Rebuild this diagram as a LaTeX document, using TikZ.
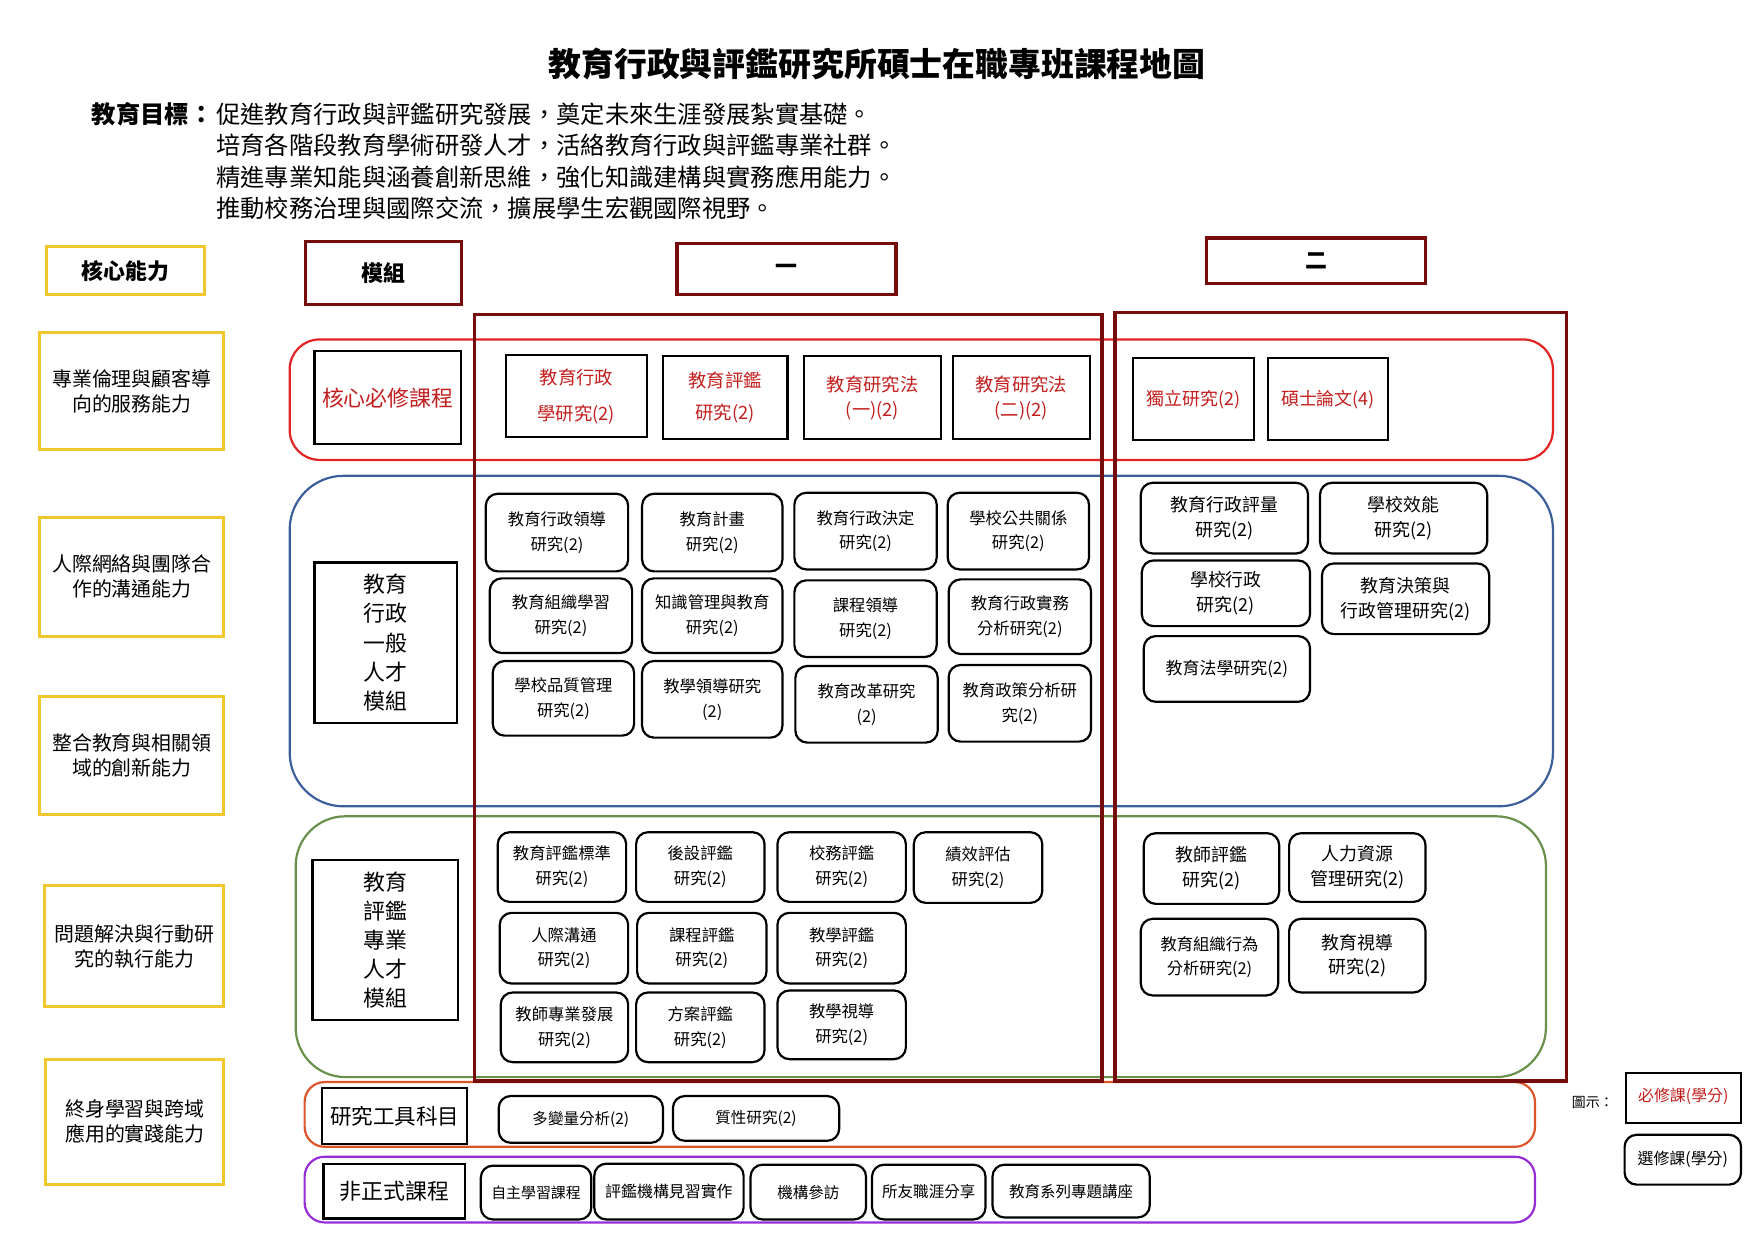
\documentclass[tikz,border=0pt]{standalone}
\usepackage{fontspec}
\setmainfont{Noto Sans CJK TC}
\definecolor{gold}{RGB}{240,200,45}
\definecolor{maroon}{RGB}{118,12,12}
\definecolor{corered}{RGB}{195,30,30}
\definecolor{coreline}{RGB}{225,35,35}
\definecolor{genblue}{RGB}{60,95,155}
\definecolor{evalgreen}{RGB}{105,145,75}
\definecolor{toolorange}{RGB}{220,85,40}
\definecolor{infpurple}{RGB}{150,45,215}
\newcommand\fsz[2]{\fontsize{#1}{#2}\selectfont}

\begin{document}
\begin{tikzpicture}[x=0.5pt,y=-0.5pt,
  ability/.style={rectangle,draw=gold,line width=1.5pt,align=center,minimum width=92.5pt,font=\fsz{10}{12.5}},
  header/.style={rectangle,draw=maroon,line width=1.6pt,font=\fsz{11}{13}\bfseries},
  strip/.style={rectangle,line width=1.1pt,minimum width=634.5pt},
  year/.style={rectangle,draw=maroon,line width=1.6pt},
  modbox/.style={rectangle,draw=black,line width=1.1pt,align=center,inner sep=1pt,font=\fsz{11}{14.6}},
  req/.style={rectangle,draw=black,line width=1.1pt,align=center,text=corered,font=\fsz{9.2}{12.5}},
  elec/.style={rectangle,rounded corners=6pt,draw=black,line width=1.1pt,align=center,font=\fsz{8.2}{12.5}},
  goaltext/.style={anchor=west,inner sep=0pt,font=\fsz{12.2}{15}}]
\useasboundingbox (0,0) rectangle (1763,1247);

\node at (881,64) (title) [font=\fsz{16.5}{20}\bfseries] {教育行政與評鑑研究所碩士在職專班課程地圖};
\node at (92,115) (goalhead) [anchor=west,inner sep=0pt,font=\fsz{12.2}{15}\bfseries] {教育目標：};
\node at (217,115) (goal1) [goaltext] {促進教育行政與評鑑研究發展，奠定未來生涯發展紮實基礎。};
\node at (217,146) (goal2) [goaltext] {培育各階段教育學術研發人才，活絡教育行政與評鑑專業社群。};
\node at (217,178) (goal3) [goaltext] {精進專業知能與涵養創新思維，強化知識建構與實務應用能力。};
\node at (217,209) (goal4) [goaltext] {推動校務治理與國際交流，擴展學生宏觀國際視野。};

\node at (925.5,401.5) (corestrip) [strip,draw=coreline,rounded corners=15pt,minimum height=60.5pt] {};
\node at (925.5,644) (genstrip) [strip,draw=genblue,rounded corners=27pt,minimum height=166pt] {};
\node at (925,951) (evalstrip) [strip,draw=evalgreen,rounded corners=25pt,minimum width=628pt,minimum height=131pt] {};
\node at (924,1119.5) (toolstrip) [strip,draw=toolorange,rounded corners=10pt,minimum width=618pt,minimum height=32.5pt] {};
\node at (924,1195) (infstrip) [strip,draw=infpurple,rounded corners=10pt,minimum width=618pt,minimum height=33pt] {};
\node at (792,701) (year1) [year,minimum width=315pt,minimum height=385pt] {};
\node at (1347,700) (year2) [year,minimum width=227pt,minimum height=386pt] {};

\node at (126,272) (abilhead) [ability,minimum width=79pt,minimum height=24pt,font=\fsz{11}{13}\bfseries] {核心能力};
\node at (385.5,274.5) (modhead) [header,minimum width=78.5pt,minimum height=31.5pt] {模組};
\node at (790,270.5) (yr1head) [header,minimum width=110pt,minimum height=25.5pt] {一};
\node at (1322,262) (yr2head) [header,minimum width=110pt,minimum height=23pt] {二};

\node at (132.5,393) (abil1) [ability,minimum height=59pt] {專業倫理與顧客導\\向的服務能力};
\node at (132.5,579.5) (abil2) [ability,minimum height=59.5pt] {人際網絡與團隊合\\作的溝通能力};
\node at (132.5,759) (abil3) [ability,minimum height=59pt] {整合教育與相關領\\域的創新能力};
\node at (135,950.5) (abil4) [ability,minimum width=90pt,minimum height=60.5pt] {問題解決與行動研\\究的執行能力};
\node at (135.5,1127) (abil5) [ability,minimum width=89.5pt,minimum height=63pt] {終身學習與跨域\\應用的實踐能力};

\node at (389.5,399.5) (coremod) [modbox,text=corered,minimum width=73.5pt,minimum height=46.5pt] {核心必修課程};
\node at (387.5,645.5) (genmod) [modbox,minimum width=71.5pt,minimum height=80.5pt] {教育\\行政\\一般\\人才\\模組};
\node at (387,944.5) (evalmod) [modbox,minimum width=73pt,minimum height=80.5pt] {教育\\評鑑\\專業\\人才\\模組};
\node at (396.5,1121) (toolmod) [modbox,minimum width=73pt,minimum height=28pt,font=\fsz{10.8}{13}] {研究工具科目};
\node at (396,1196.5) (infmod) [modbox,minimum width=71pt,minimum height=27.5pt] {非正式課程};

\node at (579,398) (c1) [req,minimum width=71pt,minimum height=41pt,font=\fsz{9.2}{18}] {教育行政\\學研究(2)};
\node at (728.5,399.5) (c2) [req,minimum width=62.5pt,minimum height=41.5pt,font=\fsz{9.2}{16}] {教育評鑑\\研究(2)};
\node at (876.5,399.5) (c3) [req,minimum width=68.5pt,minimum height=41.5pt] {教育研究法\\(一)(2)};
\node at (1026,399.5) (c4) [req,minimum width=69pt,minimum height=41.5pt] {教育研究法\\(二)(2)};
\node at (1199,401) (c5) [req,minimum width=61pt,minimum height=41pt,font=\fsz{9}{12}] {獨立研究(2)};
\node at (1334,401) (c6) [req,minimum width=60pt,minimum height=41pt,font=\fsz{9}{12}] {碩士論文(4)};

\node at (559.5,535) (g1) [elec,minimum width=71.5pt,minimum height=39pt] {教育行政領導\\研究(2)};
\node at (715.5,535) (g2) [elec,minimum width=70.5pt,minimum height=39pt] {教育計畫\\研究(2)};
\node at (869.5,533.5) (g3) [elec,minimum width=71.5pt,minimum height=38.5pt] {教育行政決定\\研究(2)};
\node at (1023,533.5) (g4) [elec,minimum width=71pt,minimum height=38.5pt] {學校公共關係\\研究(2)};
\node at (563.5,618.5) (g5) [elec,minimum width=71.5pt,minimum height=37.5pt] {教育組織學習\\研究(2)};
\node at (715.5,618.5) (g6) [elec,minimum width=70.5pt,minimum height=37.5pt] {知識管理與教育\\研究(2)};
\node at (869.5,621.5) (g7) [elec,minimum width=71.5pt,minimum height=38.5pt] {課程領導\\研究(2)};
\node at (1024.5,619.5) (g8) [elec,minimum width=71.5pt,minimum height=37.5pt] {教育行政實務\\分析研究(2)};
\node at (566,701.5) (g9) [elec,minimum width=71pt,minimum height=37.5pt] {學校品質管理\\研究(2)};
\node at (715.5,702.5) (g10) [elec,minimum width=70.5pt,minimum height=38.5pt] {教學領導研究\\(2)};
\node at (870.5,707.5) (g11) [elec,minimum width=71.5pt,minimum height=38.5pt] {教育改革研究\\(2)};
\node at (1024.5,706.5) (g12) [elec,minimum width=71.5pt,minimum height=38.5pt] {教育政策分析研\\究(2)};

\node at (1230,520.5) (h1) [elec,minimum width=84pt,minimum height=35.5pt,font=\fsz{9}{12.5}] {教育行政評量\\研究(2)};
\node at (1410,520.5) (h2) [elec,minimum width=84pt,minimum height=35.5pt,font=\fsz{9}{12.5}] {學校效能\\研究(2)};
\node at (1231.5,596) (h3) [elec,minimum width=84.5pt,minimum height=33pt,font=\fsz{9}{12.5}] {學校行政\\研究(2)};
\node at (1412,601.5) (h4) [elec,minimum width=84pt,minimum height=35.5pt,font=\fsz{9}{12.5}] {教育決策與\\行政管理研究(2)};
\node at (1232.5,672) (h5) [elec,minimum width=83.5pt,minimum height=33pt,font=\fsz{8.5}{12.5}] {教育法學研究(2)};

\node at (564.5,871) (e1) [elec,minimum width=64.5pt,minimum height=35pt] {教育評鑑標準\\研究(2)};
\node at (703.5,871) (e2) [elec,minimum width=64.5pt,minimum height=35pt] {後設評鑑\\研究(2)};
\node at (845.5,871) (e3) [elec,minimum width=64.5pt,minimum height=35pt] {校務評鑑\\研究(2)};
\node at (982.5,871.5) (e4) [elec,minimum width=64.5pt,minimum height=35.5pt] {績效評估\\研究(2)};
\node at (566.5,952.5) (e5) [elec,minimum width=64.5pt,minimum height=35.5pt] {人際溝通\\研究(2)};
\node at (705,952.5) (e6) [elec,minimum width=65pt,minimum height=35.5pt] {課程評鑑\\研究(2)};
\node at (845.5,952.5) (e7) [elec,minimum width=64.5pt,minimum height=35.5pt] {教學評鑑\\研究(2)};
\node at (567,1032) (e8) [elec,minimum width=64pt,minimum height=35pt] {教師專業發展\\研究(2)};
\node at (703.5,1032) (e9) [elec,minimum width=64.5pt,minimum height=35pt] {方案評鑑\\研究(2)};
\node at (845.5,1029.5) (e10) [elec,minimum width=64.5pt,minimum height=34.5pt] {教學視導\\研究(2)};

\node at (1217,872.5) (f1) [elec,minimum width=68pt,minimum height=35.5pt,font=\fsz{9}{12.5}] {教師評鑑\\研究(2)};
\node at (1363.5,871.5) (f2) [elec,minimum width=68.5pt,minimum height=34.5pt,font=\fsz{9}{12.5}] {人力資源\\管理研究(2)};
\node at (1215,961.5) (f3) [elec,minimum width=69pt,minimum height=38.5pt] {教育組織行為\\分析研究(2)};
\node at (1363.5,960) (f4) [elec,minimum width=68.5pt,minimum height=37pt,font=\fsz{9}{12.5}] {教育視導\\研究(2)};

\node at (583.5,1124.5) (t1) [elec,minimum width=82.5pt,minimum height=23.5pt,font=\fsz{7.8}{10}] {多變量分析(2)};
\node at (759.5,1123.5) (t2) [elec,minimum width=83.5pt,minimum height=22.5pt,font=\fsz{7.8}{10}] {質性研究(2)};

\node at (538.5,1198) (p1) [elec,minimum width=55.5pt,minimum height=27pt,font=\fsz{7.5}{10}] {自主學習課程};
\node at (672,1197) (p2) [elec,minimum width=75pt,minimum height=28pt,font=\fsz{8}{10}] {評鑑機構見習實作};
\node at (812,1197.5) (p3) [elec,minimum width=58pt,minimum height=27.5pt,font=\fsz{7.8}{10}] {機構參訪};
\node at (933,1197.5) (p4) [elec,minimum width=57pt,minimum height=27.5pt,font=\fsz{7.8}{10}] {所友職涯分享};
\node at (1076,1196.5) (p5) [elec,minimum width=79pt,minimum height=26.5pt,font=\fsz{7.8}{10}] {教育系列專題講座};

\node at (1600,1107) (legtitle) [font=\fsz{7}{9}] {圖示：};
\node at (1691,1103) (legreq) [req,minimum width=58pt,minimum height=25pt,font=\fsz{8}{10}] {\raisebox{3pt}{必修課(學分)}};
\node at (1690.5,1165) (legelec) [elec,minimum width=58.5pt,minimum height=25pt,font=\fsz{8}{10}] {選修課(學分)};
\end{tikzpicture}
\end{document}
